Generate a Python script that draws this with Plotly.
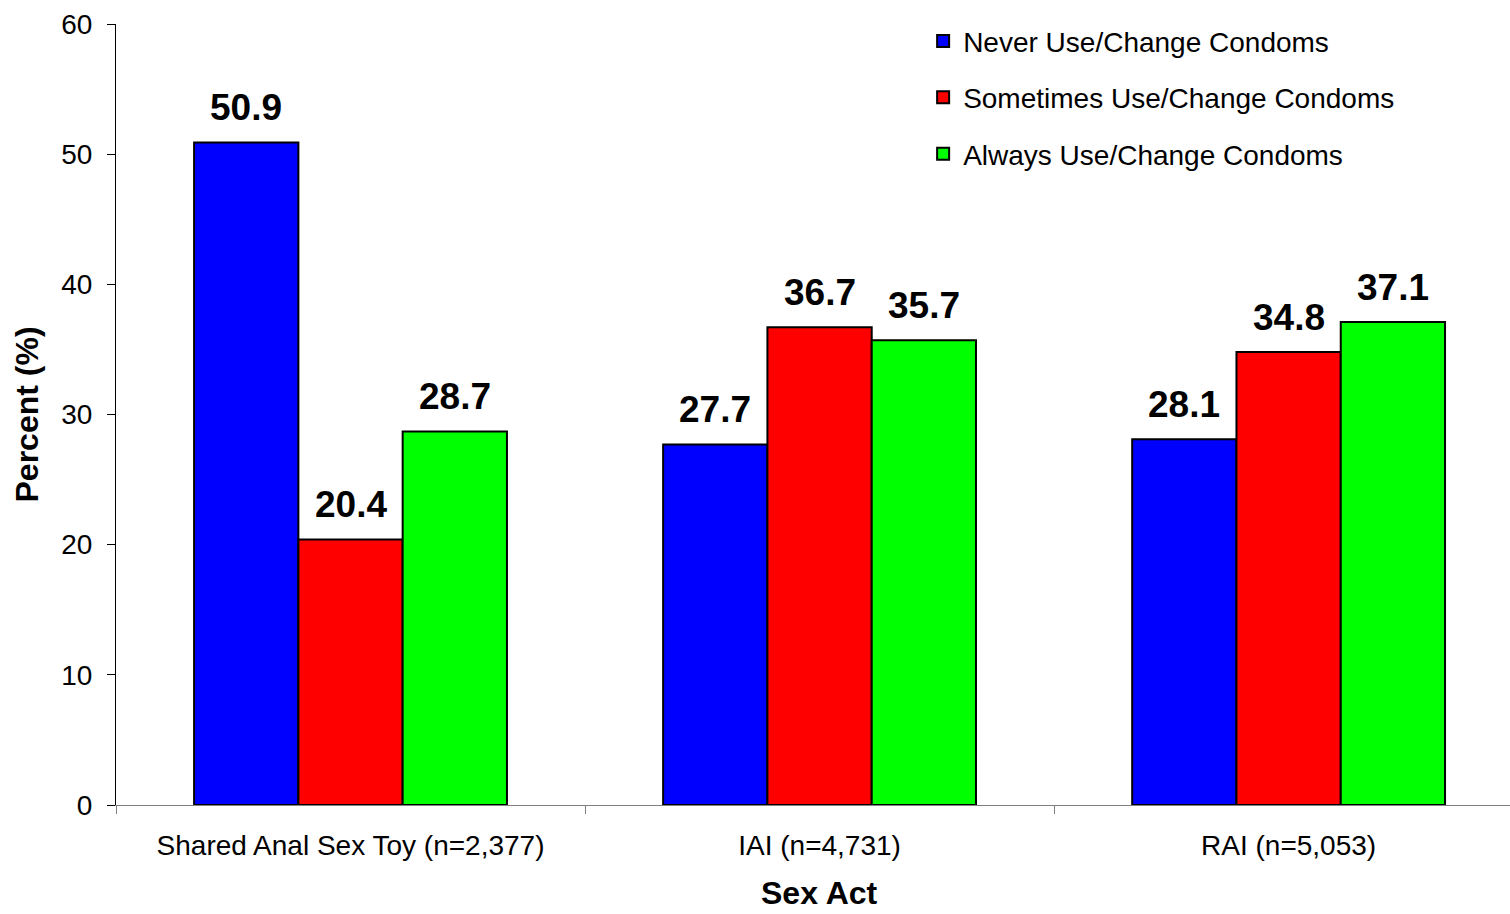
import plotly.graph_objects as go

categories = ["Shared Anal Sex Toy (n=2,377)", "IAI (n=4,731)", "RAI (n=5,053)"]
series_names = [
    "Never Use/Change Condoms",
    "Sometimes Use/Change Condoms",
    "Always Use/Change Condoms",
]
never_vals = [50.9, 27.7, 28.1]
sometimes_vals = [20.4, 36.7, 34.8]
always_vals = [28.7, 35.7, 37.1]
colors = ["#0000FF", "#FF0000", "#00FF00"]

FONT = "Liberation Sans, Arial, sans-serif"
BAR_GAP = 0.333
N_SERIES = 3

fig = go.Figure()
all_vals = [never_vals, sometimes_vals, always_vals]
for i, (name, vals, col) in enumerate(zip(series_names, all_vals, colors)):
    fig.add_trace(go.Bar(
        name=name,
        x=categories,
        y=vals,
        marker=dict(color=col, line=dict(color="black", width=2)),
        legendgroup=f"g{i}",
    ))

# value labels above each bar, placed at the bar's offset within its group
bar_w = (1 - BAR_GAP) / N_SERIES
for i, vals in enumerate(all_vals):
    offset = -0.5 * (1 - BAR_GAP) + bar_w * (i + 0.5)
    for j, v in enumerate(vals):
        fig.add_annotation(
            x=j + offset, y=v, xref="x", yref="y",
            text=f"<b>{v:.1f}</b>", showarrow=False,
            yanchor="bottom", yshift=12,
            font=dict(family=FONT, size=37, color="black"),
        )

# x-axis title, centred under the three category slots
fig.add_annotation(
    x=0.5047, y=-0.113, xref="paper", yref="paper",
    text="<b>Sex Act</b>", showarrow=False,
    xanchor="center", yanchor="middle", borderpad=0,
    font=dict(family=FONT, size=32, color="black"),
)

fig.update_layout(
    width=1510,
    height=914,
    margin=dict(l=116, r=0, t=24, b=109),
    paper_bgcolor="white",
    plot_bgcolor="white",
    barmode="group",
    bargap=BAR_GAP,
    bargroupgap=0,
    font=dict(family=FONT, color="black"),
    showlegend=True,
    legend=dict(
        x=0.579, y=1.01, xanchor="left", yanchor="top",
        font=dict(family=FONT, size=28, color="black"),
        bgcolor="rgba(0,0,0,0)",
        traceorder="grouped",
        tracegroupgap=17,
        itemwidth=30,
    ),
)

fig.update_xaxes(
    range=[-0.5, 2.472],
    showline=True, linecolor="#808080", linewidth=1,
    ticks="outside", ticklen=8, tickcolor="#808080",
    tickmode="array",
    tickvals=[-0.5, 0.5, 1.5],
    ticktext=["", "", ""],
    showgrid=False,
    zeroline=False,
)
# category labels on an overlaid axis with ticks at the group centers
fig.update_layout(
    xaxis2=dict(
        overlaying="x", matches="x", side="bottom", anchor="y",
        type="category",
        tickmode="array",
        tickvals=categories,
        ticktext=categories,
        ticks="", showline=False, showgrid=False, zeroline=False,
        tickfont=dict(family=FONT, size=28, color="black"),
        ticklabelstandoff=21,
    )
)
fig.add_trace(go.Scatter(x=categories, y=[0, 0, 0], xaxis="x2", mode="markers",
                         marker=dict(opacity=0), showlegend=False, hoverinfo="skip"))

fig.update_yaxes(
    range=[0, 60],
    tickvals=[0, 10, 20, 30, 40, 50, 60],
    showline=True, linecolor="black", linewidth=1,
    ticks="outside", ticklen=8, tickcolor="black",
    tickfont=dict(family=FONT, size=28, color="black"),
    ticklabelstandoff=9,
    showgrid=False, zeroline=False,
    title=dict(text="<b>Percent (%)</b>", font=dict(family=FONT, size=32, color="black"), standoff=13),
)

fig.write_html("out.html")
